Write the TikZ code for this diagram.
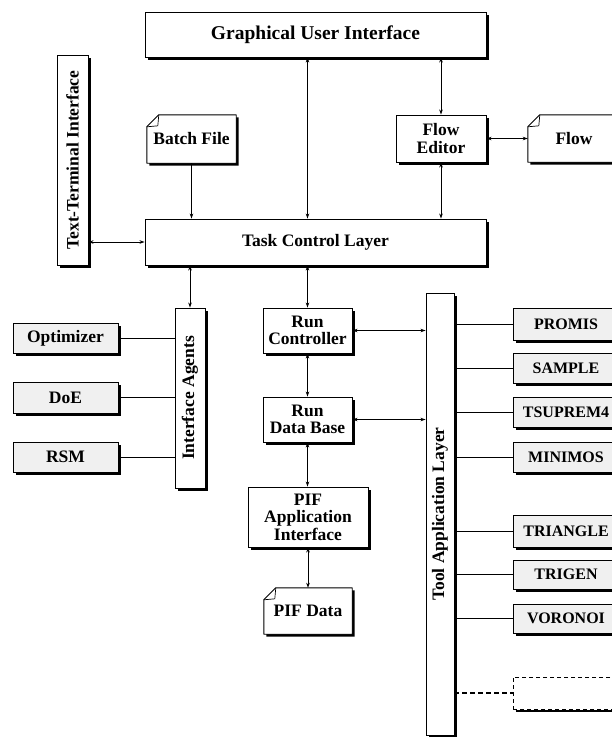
\documentclass[tikz,border=0pt]{standalone}
\usepackage{fontspec}
\setmainfont{Liberation Serif}
\usetikzlibrary{arrows.meta,shadows}
\newcommand{\notebox}[1]{%
  \fill[black] ([xshift=2.5pt,yshift=-14.5pt]#1.north west) -- ([xshift=14.5pt,yshift=-2.5pt]#1.north west) -- ([xshift=2.5pt,yshift=-2.5pt]#1.north east) -- ([xshift=2.5pt,yshift=-2.5pt]#1.south east) -- ([xshift=2.5pt,yshift=-2.5pt]#1.south west) -- cycle;
  \draw[line width=0.9pt, fill=white, line join=round] ([yshift=-12pt]#1.north west) -- ([xshift=12pt]#1.north west) -- (#1.north east) -- (#1.south east) -- (#1.south west) -- cycle;
  \draw[line width=0.7pt] ([yshift=-12pt]#1.north west) -- ([xshift=11pt,yshift=-11pt]#1.north west) -- ([xshift=12pt]#1.north west);
}
\begin{document}
\begin{tikzpicture}[x=1pt,y=-1pt,
  txt/.style={font=\bfseries\fontsize{17.5}{17.5}\selectfont, align=center, inner sep=0pt},
  box/.style={txt, draw, line width=0.9pt, fill=white,
    general shadow={fill=black, shadow xshift=2.5pt, shadow yshift=-2.5pt}},
  gbox/.style={box, fill=black!6},
  tbox/.style={gbox, font=\bfseries\fontsize{16}{17}\selectfont, minimum width=106pt},
  blank/.style={inner sep=0pt},
  conn/.style={line width=0.8pt},
  bi/.style={conn, {Stealth[length=5pt,width=3.5pt]}-{Stealth[length=5pt,width=3.5pt]}},
  uni/.style={conn, -{Stealth[length=5pt,width=3.5pt]}}
]
\clip (0,0) rectangle (612,737);

% top layer
\node[box, minimum width=341pt, minimum height=45pt, font=\bfseries\fontsize{19.5}{20}\selectfont] (gui) at (315.5,34.5) {Graphical User Interface};
\node[box, minimum width=31pt, minimum height=210pt] (tt) at (72.5,160) {\rotatebox{90}{Text-Terminal Interface}};
\node[box, minimum width=90pt, minimum height=47pt] (fe) at (441,138.5) {Flow\\Editor};
\node[box, minimum width=341pt, minimum height=46pt] (tcl) at (315.5,242) {Task Control Layer};

% documents
\node[blank, minimum width=89pt, minimum height=48pt] (batch) at (191.5,139) {};
\notebox{batch}
\node[txt] at (batch) {Batch File};
\node[blank, minimum width=92pt, minimum height=47pt] (flow) at (574,138.5) {};
\notebox{flow}
\node[txt] at (flow) {Flow};

% interface agents
\node[box, minimum width=30pt, minimum height=180pt] (ia) at (190,398) {\rotatebox{90}{Interface Agents}};
\node[gbox, minimum width=105pt, minimum height=30pt] (opt) at (65.5,338) {Optimizer};
\node[gbox, minimum width=105pt, minimum height=31pt] (doe) at (65.5,397.5) {DoE};
\node[gbox, minimum width=105pt, minimum height=30pt] (rsm) at (65.5,457) {RSM};

% run column
\node[box, minimum width=89pt, minimum height=45pt] (rc) at (307.5,330.5) {Run\\Controller};
\node[box, minimum width=89pt, minimum height=45pt] (rdb) at (307.5,419.5) {Run\\Data Base};
\node[box, minimum width=120pt, minimum height=60pt] (pif) at (308,517) {PIF\\Application\\Interface};
\node[blank, minimum width=88pt, minimum height=46pt] (pifd) at (308,611) {};
\notebox{pifd}
\node[txt] at (pifd) {PIF Data};

% tool application layer
\node[box, minimum width=28pt, minimum height=442pt] (tal) at (440,514) {\rotatebox{90}{Tool Application Layer}};
\node[tbox, minimum height=32pt] (promis) at (566,324) {PROMIS};
\node[tbox, minimum height=30pt] (sample) at (566,368) {SAMPLE};
\node[tbox, minimum height=30pt] (tsup) at (566,412) {TSUPREM4};
\node[tbox, minimum height=30pt] (mini) at (566,457) {MINIMOS};
\node[tbox, minimum height=32pt] (tri) at (566,531) {TRIANGLE};
\node[tbox, minimum height=29pt] (trigen) at (566,574.5) {TRIGEN};
\node[tbox, minimum height=29pt] (voro) at (566,618.5) {VORONOI};
\node[blank, draw, dashed, line width=0.8pt, dash pattern=on 4pt off 3pt, minimum width=106pt, minimum height=32pt] (more) at (566,693) {};
\draw[line width=2.5pt] ([xshift=3pt,yshift=-1.5pt]more.south west) -- ([xshift=3pt,yshift=-1.5pt]more.south east);

% connectors
\draw[bi] (gui.south -| rc) -- (tcl.north -| rc);
\draw[bi] (gui.south -| fe) -- (fe.north);
\draw[bi] (fe.south) -- (tcl.north -| fe);
\draw[bi] (fe.east) -- (flow.west);
\draw[uni] (batch.south) -- (tcl.north -| batch);
\draw[bi] (tt.east |- tcl) -- (tcl.west);
\draw[bi] (tcl.south -| ia) -- (ia.north);
\draw[bi] (tcl.south -| rc) -- (rc.north);
\draw[bi] (rc.south) -- (rdb.north);
\draw[bi] (rdb.south) -- (pif.north -| rdb);
\draw[bi] (pif.south -| pifd) -- (pifd.north);
\draw[bi] (rc.east) -- (tal.west |- rc);
\draw[bi] (rdb.east) -- (tal.west |- rdb);
\foreach \n in {opt,doe,rsm} \draw[conn] (\n.east) -- (ia.west |- \n);
\foreach \n in {promis,sample,tsup,mini,tri,trigen,voro} \draw[conn] (tal.east |- \n) -- (\n.west);
\draw[conn, dashed, line width=1.2pt, dash pattern=on 5pt off 3pt] (tal.east |- more) -- (more.west);
\end{tikzpicture}
\end{document}
